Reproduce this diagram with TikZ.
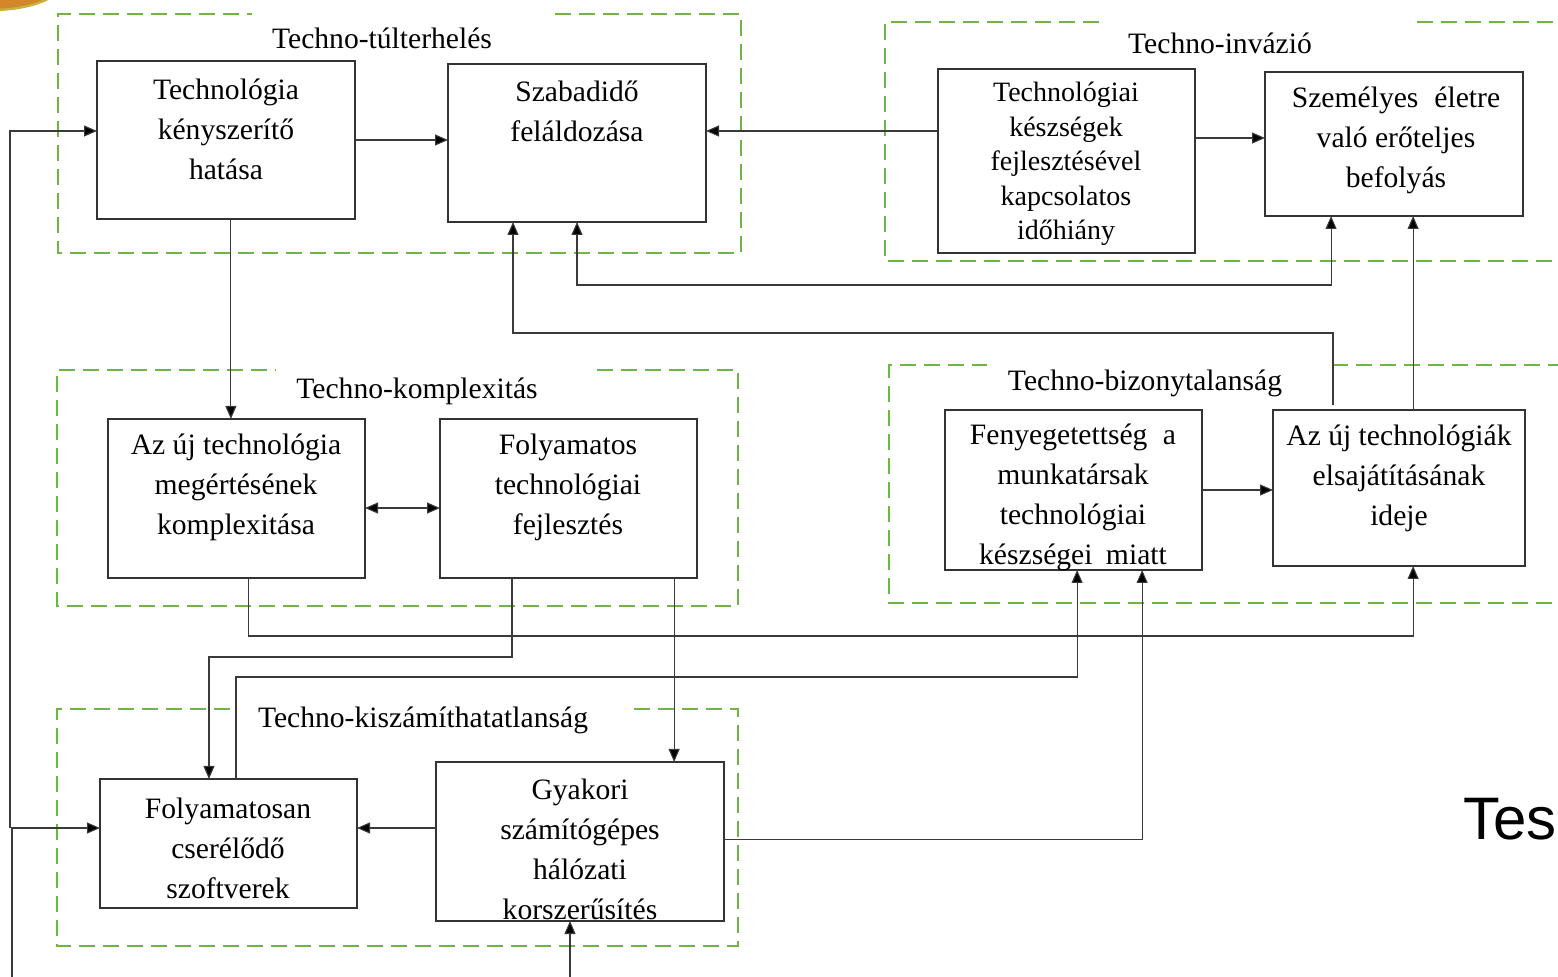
\documentclass[tikz,border=0pt]{standalone}
\usepackage{fontspec}
\setmainfont{Liberation Serif}
\newfontfamily\tesfont{Liberation Sans}
\usetikzlibrary{arrows.meta,calc}
\definecolor{grpgreen}{HTML}{70B447}
\definecolor{boxline}{HTML}{333333}
\definecolor{connline}{HTML}{3A3A3A}
\definecolor{blob}{HTML}{D4862A}
\definecolor{blobrim}{HTML}{C7B23A}
\begin{document}
\begin{tikzpicture}[x=0.5pt,y=-0.5pt,
  box/.style={draw=boxline,line width=0.8pt,inner sep=0pt,outer sep=0pt,rectangle},
  txt/.style={align=center,inner sep=0pt,font=\fontsize{14.8}{20}\selectfont},
  smalltxt/.style={align=center,inner sep=0pt,font=\fontsize{14}{17.3}\selectfont},
  grp/.style={draw=grpgreen,line width=1.25pt,dash pattern=on 8pt off 4pt},
  glabel/.style={inner sep=0pt,font=\fontsize{14.8}{20}\selectfont},
  tip/.tip={Triangle[length=6.5pt,width=5.5pt,fill=black]},
  conn/.style={draw=connline,line width=0.55pt,-tip},
  biconn/.style={draw=connline,line width=0.55pt,tip-tip}]
\useasboundingbox (0,0) rectangle (1558,977);
\clip (0,0) rectangle (1558,977);

% orange blob top-left
\draw[fill=blob,draw=blobrim,line width=1.2pt] (-8,-22) ellipse [x radius=37pt,y radius=16pt];

% group outlines
\draw[grp] (555,14) -| (741,253) -| (58,14) -- (252,14);
\draw[grp] (1417,22) -- (1600,22) (1600,261) -- (885,261) -- (885,22) -- (1106,22);
\draw[grp] (597,370) -| (738,606) -| (57,370) -- (276,370);
\draw[grp] (1332,365) -- (1600,365) (1600,603) -- (889,603) -- (889,365) -- (987,365);
\draw[grp] (634,709) -| (738,946) -| (57,709) -- (235,709);

% group labels
\node[glabel] (l1) at (382,38) {Techno-túlterhelés};
\node[glabel] (l2) at (1220,43) {Techno-invázió};
\node[glabel] (l3) at (417,391) {Techno-komplexitás};
\node[glabel] (l4) at (1145,383) {Techno-bizonytalanság};
\node[glabel] (l5) at (423,720) {Techno-kiszámíthatatlanság};

% boxes
\node[box,minimum width=129pt,minimum height=79pt] (b1) at (226,140) {};
\node[box,minimum width=129pt,minimum height=79pt] (b2) at (577,143) {};
\node[box,minimum width=128.5pt,minimum height=92pt] (b3) at (1066.5,161) {};
\node[box,minimum width=129pt,minimum height=72pt] (b4) at (1394,144) {};
\node[box,minimum width=128.5pt,minimum height=79.5pt] (b5) at (236.5,498.5) {};
\node[box,minimum width=128.5pt,minimum height=79.5pt] (b6) at (568.5,498.5) {};
\node[box,minimum width=128.5pt,minimum height=80pt] (b7) at (1073.5,490) {};
\node[box,minimum width=126pt,minimum height=78pt] (b8) at (1399,488) {};
\node[box,minimum width=128.5pt,minimum height=64.5pt] (b9) at (228.5,843.5) {};
\node[box,minimum width=144pt,minimum height=79.5pt] (b10) at (580,841.5) {};

% box texts
\node[txt] (t1) at (226,129) {Technológia\\kényszerítő\\hatása};
\node[txt] (t2) at (577,111) {Szabadidő\\feláldozása};
\node[smalltxt] (t3) at (1066,164) {Technológiai\\készségek\\fejlesztésével\\kapcsolatos\\időhiány};
\node[txt] (t4) at (1396,140) {Személyes\hspace{8pt}életre\\való erőteljes\\befolyás};
\node[txt] (t5) at (236,487) {Az új technológia\\megértésének\\komplexitása};
\node[txt] (t6) at (568,487) {Folyamatos\\technológiai\\fejlesztés};
\node[txt] (t7) at (1073,497) {Fenyegetettség\hspace{4pt} a\\munkatársak\\technológiai\\készségei\hspace{3pt} miatt};
\node[txt] (t8) at (1399,478) {Az új technológiák\\elsajátításának\\ideje};
\node[txt] (t9) at (228,848) {Folyamatosan\\cserélődő\\szoftverek};
\node[txt] (t10) at (580,849) {Gyakori\\számítógépes\\hálózati\\korszerűsítés};

% side text
\node[anchor=base west,inner sep=0pt,font=\fontsize{30}{34}\selectfont\tesfont] (tes) at (1463,840) {Tes};

% attachment points
\coordinate (b1w) at ($(b1.north west)!0.443!(b1.south west)$);
\coordinate (b9w) at ($(b9.north west)!0.38!(b9.south west)$);
\coordinate (b3w) at ($(b3.north west)!0.337!(b3.south west)$);
\coordinate (b3e) at ($(b3.north east)!0.375!(b3.south east)$);
\coordinate (b1s) at ($(b1.south west)!0.519!(b1.south east)$);
\coordinate (b5e) at ($(b5.north east)!0.56!(b5.south east)$);
\coordinate (b4s1) at ($(b4.south west)!0.256!(b4.south east)$);
\coordinate (b8n1) at ($(b8.north west)!0.238!(b8.north east)$);
\coordinate (b8n2) at ($(b8.north west)!0.556!(b8.north east)$);
\coordinate (b8s) at ($(b8.south west)!0.556!(b8.south east)$);
\coordinate (b2s2) at ($(b2.south west)!0.252!(b2.south east)$);
\coordinate (b5s) at ($(b5.south west)!0.545!(b5.south east)$);
\coordinate (b6s1) at ($(b6.south west)!0.28!(b6.south east)$);
\coordinate (b6s2) at ($(b6.south west)!0.911!(b6.south east)$);
\coordinate (b9n1) at ($(b9.north west)!0.424!(b9.north east)$);
\coordinate (b9n2) at ($(b9.north west)!0.529!(b9.north east)$);
\coordinate (b7s1) at ($(b7.south west)!0.514!(b7.south east)$);
\coordinate (b7s2) at ($(b7.south west)!0.767!(b7.south east)$);
\coordinate (b10w) at ($(b10.north west)!0.415!(b10.south west)$);
\coordinate (b10e) at ($(b10.north east)!0.49!(b10.south east)$);
\coordinate (inB) at (12,977);
\coordinate (jB) at (10,828);
\coordinate (inC) at (570,977);
\coordinate (h285) at (0,285);
\coordinate (h333) at (0,333);
\coordinate (h636) at (0,636);
\coordinate (h657) at (0,657);
\coordinate (h677) at (0,677);

% connectors
\draw[conn] (inB) |- (b9w);
\draw[conn] (jB) |- (b1w);
\draw[conn] (b1.east) -- (b1.east -| b2.west);
\draw[conn] (b3w) -- (b3w -| b2.east);
\draw[conn] (b3e) -- (b3e -| b4.west);
\draw[conn] (b1s) -- (b1s |- b5.north);
\draw[biconn] (b5e) -- (b5e -| b6.west);
\draw[biconn] (b2.south) -- (b2.south |- h285) -| (b4s1);
\draw[conn] ([yshift=2.5pt]b8n1) -- (b8n1 |- h333) -| (b2s2);
\draw[conn] (b8n2) -- (b8n2 |- b4.south);
\draw[conn] (b5s) -- (b5s |- h636) -| (b8s);
\draw[conn] (b6s1) -- (b6s1 |- h657) -| (b9n1);
\draw[conn] (b9n2) -- (b9n2 |- h677) -| (b7s1);
\draw[conn] (b6s2) -- (b6s2 |- b10.north);
\draw[conn] (b10w) -- (b10w -| b9.east);
\draw[conn] (b10e) -| (b7s2);
\draw[conn] (inC) -- (inC |- b10.south);
\draw[conn] (b7.east) -- (b7.east -| b8.west);
\end{tikzpicture}
\end{document}
